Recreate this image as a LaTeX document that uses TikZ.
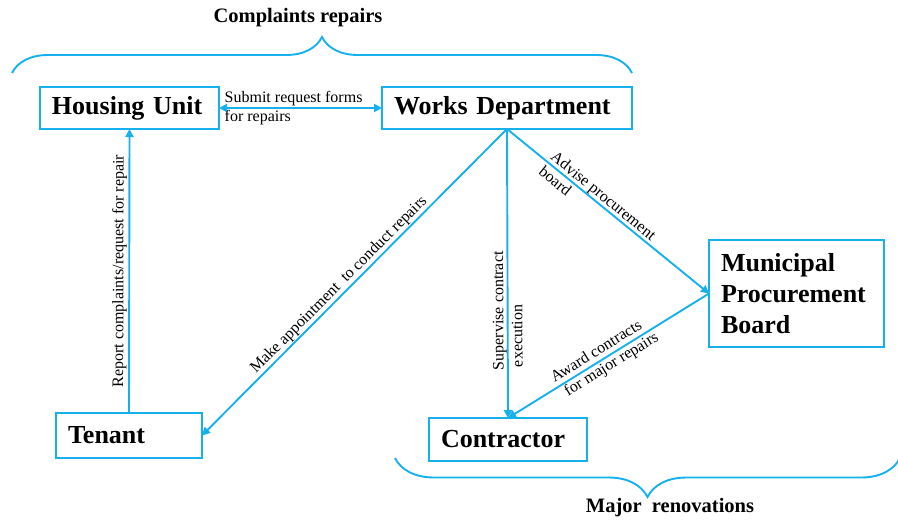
\documentclass[tikz,border=0pt]{standalone}
\usepackage{fontspec}
\setmainfont{Liberation Serif}
\usetikzlibrary{arrows.meta,decorations.pathreplacing}
\definecolor{lineblue}{RGB}{22,176,236}
\tikzset{
  box/.style={draw=lineblue, line width=2.4pt, inner sep=0pt, outer sep=0pt,
    font=\fontsize{26}{31}\selectfont\bfseries, align=left},
  arr/.style={draw=lineblue, line width=1.9pt, -{Triangle[length=8pt,width=8pt]}},
  darr/.style={draw=lineblue, line width=1.9pt, {Triangle[length=8pt,width=8pt]}-{Triangle[length=8pt,width=8pt]}},
  lbl/.style={font=\fontsize{16}{19}\selectfont, inner sep=1.5pt, align=left},
  ttl/.style={font=\fontsize{20.5}{24}\selectfont\bfseries, inner sep=0pt},
  brc/.style={draw=lineblue, line width=1.9pt, decorate}
}
\begin{document}
\begin{tikzpicture}[x=1pt,y=-1pt]
\useasboundingbox (0,0) rectangle (898,523);
% boxes
\node[box, minimum width=179pt, minimum height=42pt, text width=155pt] (HU) at (129.5,108) {Housing Unit};
\node[box, minimum width=250pt, minimum height=42pt, text width=226pt] (WD) at (507,108) {Works Department};
\node[box, minimum width=146pt, minimum height=45pt, text width=122pt] (T) at (129,435.5) {Tenant};
\node[box, minimum width=158pt, minimum height=43pt, text width=134pt] (C) at (508,439.5) {Contractor};
\node[box, minimum width=175pt, minimum height=107pt, text width=151pt] (M) at (796.5,293.5) {Municipal\\Procurement\\Board};
% connectors
\draw[darr] (HU.east) -- (WD.west);
\node[lbl, anchor=west] (l1) at ([xshift=4pt]HU.east) {Submit request forms\\for repairs};
\draw[arr] (T.north) -- (HU.south) node[lbl, midway, sloped, above] (l2) {Report complaints/request for repair};
\draw[arr] (WD.south) -- (T.east);
\path (T.east) -- (WD.south) node[lbl, pos=0.47, sloped, above] (l3) {Make appointment\ \ to conduct repairs};
\draw[arr] (WD.south) -- (C.north);
\path (C.north) -- (WD.south) node[lbl, pos=0.16, sloped, allow upside down, anchor=west] (l4) {Supervise contract\\\hspace*{3pt}execution};
\draw[arr] (WD.south) -- (M.west) node[lbl, pos=0.19, sloped, anchor=west] (l5) {Advise procurement\\board};
\draw[arr] (M.west) -- (C.north);
\path (C.north) -- (M.west) node[lbl, pos=0.24, sloped, anchor=west] (l6) {Award contracts\\\hspace*{4pt}for major repairs};
% braces
\coordinate (b1) at (12,73);
\coordinate (b2) at (632,73);
\draw[brc, decoration={brace, amplitude=36pt}] (b1) -- (b2);
\node[ttl] (t1) at (298,18) {Complaints repairs};
\coordinate (b3) at (395,458);
\coordinate (b4) at (900,458);
\draw[brc, decoration={brace, mirror, amplitude=39pt}] (b3) -- (b4);
\node[ttl] (t2) at (670,508) {Major\ \ renovations};
\end{tikzpicture}
\end{document}
